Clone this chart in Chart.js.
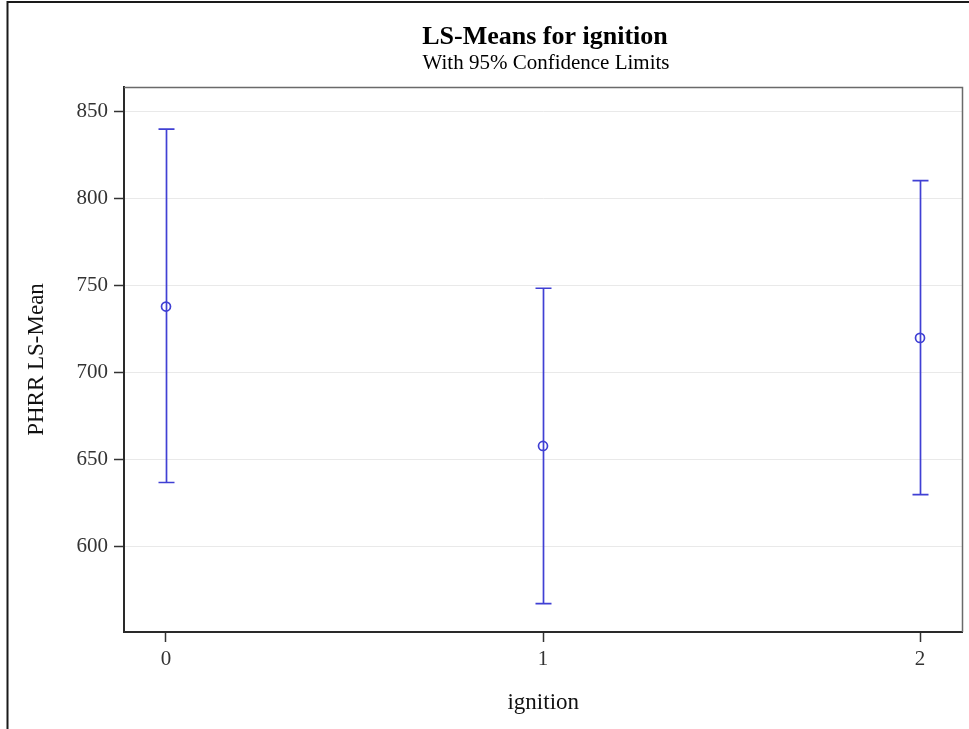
<!DOCTYPE html>
<html>
<head>
<meta charset="utf-8">
<script src="https://cdn.jsdelivr.net/npm/chart.js@4/dist/chart.umd.min.js"></script>
<style>
  html, body { margin: 0; padding: 0; background: #fff; }
  #wrap { width: 969px; height: 729px; }
</style>
</head>
<body>
<div id="wrap"><canvas id="lsm" width="969" height="729"></canvas></div>
<script>
// ignition levels and their least-squares means with 95% confidence limits
const categories = [0, 1, 2];
const lsMean  = [738.0, 658.0, 720.0];
const lowerCL = [637.0, 567.5, 630.0];
const upperCL = [839.8, 748.5, 810.3];
const yTicks  = [600, 650, 700, 750, 800, 850];

const titleText = 'LS-Means for ignition';
const subtitleText = 'With 95% Confidence Limits';
const serif = "'Liberation Serif', 'Times New Roman', serif";
const markColor = '#4040d4';

// whiskers with end caps, drawn under the mean markers
const errorBars = {
  id: 'errorBars',
  beforeDatasetsDraw(chart) {
    const { ctx, scales: { x, y } } = chart;
    ctx.save();
    ctx.strokeStyle = markColor;
    ctx.lineWidth = 1.7;
    categories.forEach((c, i) => {
      const px = Math.round(x.getPixelForValue(c)) + 0.5;
      const top = y.getPixelForValue(upperCL[i]);
      const bot = y.getPixelForValue(lowerCL[i]);
      ctx.beginPath();
      ctx.moveTo(px, top); ctx.lineTo(px, bot);
      ctx.moveTo(px - 8, top); ctx.lineTo(px + 8, top);
      ctx.moveTo(px - 8, bot); ctx.lineTo(px + 8, bot);
      ctx.stroke();
    });
    ctx.restore();
  }
};

// titles, the top/right edges of the plot box and the outer frame
const decorations = {
  id: 'decorations',
  afterDraw(chart) {
    const { ctx, chartArea: a } = chart;
    ctx.save();
    ctx.strokeStyle = '#6a6a6a';
    ctx.lineWidth = 1.5;
    ctx.beginPath();
    ctx.moveTo(a.left, a.top + 0.5); ctx.lineTo(a.right, a.top + 0.5); ctx.lineTo(a.right, a.bottom);
    ctx.stroke();

    ctx.strokeStyle = '#1a1a1a';
    ctx.lineWidth = 2;
    ctx.beginPath();
    ctx.moveTo(7.5, 729); ctx.lineTo(7.5, 2); ctx.lineTo(969, 2);
    ctx.stroke();

    ctx.fillStyle = '#000';
    ctx.textAlign = 'center';
    ctx.textBaseline = 'alphabetic';
    ctx.font = 'bold 26px ' + serif;
    ctx.fillText(titleText, 545, 44);
    ctx.font = '21px ' + serif;
    ctx.fillText(subtitleText, 546, 69);
    ctx.restore();
  }
};

new Chart(document.getElementById('lsm'), {
  type: 'scatter',
  data: {
    datasets: [{
      label: 'LS-Mean',
      data: categories.map((c, i) => ({ x: c, y: lsMean[i] })),
      pointStyle: 'circle',
      pointRadius: 4.5,
      pointBorderWidth: 1.7,
      pointBorderColor: markColor,
      pointBackgroundColor: 'rgba(0,0,0,0)',
      showLine: false
    }]
  },
  options: {
    responsive: false,
    animation: false,
    layout: { padding: { top: 87, right: 6.5, left: 0, bottom: 0 } },
    plugins: {
      legend: { display: false },
      tooltip: { enabled: false },
      title: { display: false }
    },
    scales: {
      x: {
        type: 'linear',
        min: -0.1114,
        max: 2.1127,
        afterBuildTicks: s => { s.ticks = categories.map(v => ({ value: v })); },
        afterFit: s => { s.height = 97; },
        grid: { drawOnChartArea: false, color: 'rgba(0,0,0,0)', tickColor: '#333', tickLength: 10, tickWidth: 1.5 },
        border: { display: true, color: '#2a2a2a', width: 2 },
        ticks: { color: '#333', padding: 5, font: { family: serif, size: 21 }, callback: v => String(v) },
        title: { display: true, text: 'ignition', color: '#111', font: { family: serif, size: 23 }, padding: { top: 0, bottom: 12 } }
      },
      y: {
        min: 551.2,
        max: 864,
        afterBuildTicks: s => { s.ticks = yTicks.map(v => ({ value: v })); },
        afterFit: s => { s.width = 124; },
        grid: { color: '#e9e9e9', lineWidth: 1, tickColor: '#333', tickLength: 10, tickWidth: 1.5 },
        border: { display: true, color: '#2a2a2a', width: 2 },
        ticks: { color: '#333', padding: 6, font: { family: serif, size: 21 }, callback: v => String(v) },
        title: { display: true, text: 'PHRR LS-Mean', color: '#111', font: { family: serif, size: 23 }, padding: { top: 23, bottom: 0 } }
      }
    }
  },
  plugins: [errorBars, decorations]
});
</script>
</body>
</html>
